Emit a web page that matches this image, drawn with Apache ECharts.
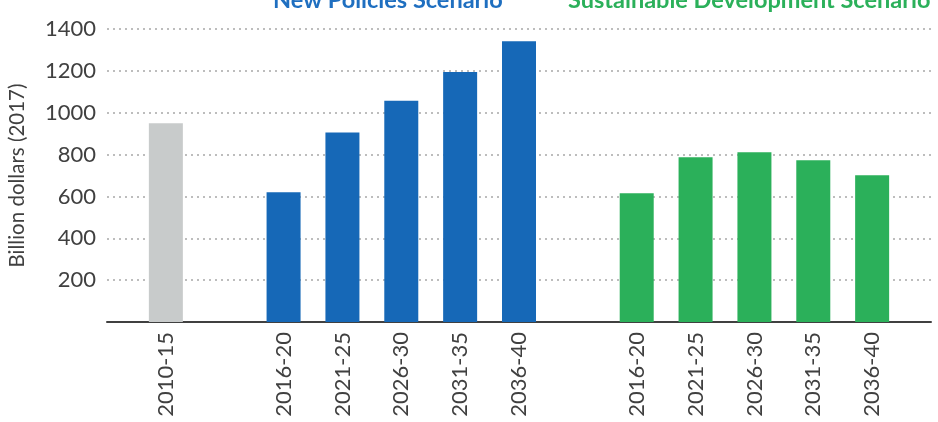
<!DOCTYPE html>
<html>
<head>
<meta charset="utf-8">
<script src="https://cdn.jsdelivr.net/npm/echarts@6/dist/echarts.min.js"></script>
<style>
  html, body { margin: 0; padding: 0; background: #fff; }
  #chart { width: 938px; height: 422px; }
</style>
</head>
<body>
<div id="chart"></div>
<script>
// categories along x, blanks are the gaps between the groups
const categories = ['', '2010-15', '', '2016-20', '2021-25', '2026-30', '2031-35', '2036-40', '', '2016-20', '2021-25', '2026-30', '2031-35', '2036-40', '']
const historical = [950]
const newPolicies = [620, 906, 1057, 1194, 1342]
const sustainable = [615, 787, 811, 773, 701]
const yTicks = [200, 400, 600, 800, 1000, 1200, 1400]

const FONT = 'Lato'

// place each series at its slots, '-' elsewhere
function placeAt(values, start) {
  const out = categories.map(() => '-')
  values.forEach((v, i) => { out[start + i] = v })
  return out
}

const chart = echarts.init(document.getElementById('chart'))
chart.setOption({
  animation: false,
  grid: { left: 107, right: 7, top: 29, bottom: 100, outerBoundsMode: 'none' },
  graphic: [
    {
      type: 'text', left: 273, top: -12,
      style: { text: 'New Policies Scenario', fill: '#1f6fc0', font: 'bold 23.5px ' + FONT },
    },
    {
      type: 'text', left: 568, top: -12,
      style: { text: 'Sustainable Development Scenario', fill: '#2bb05a', font: 'bold 23.5px ' + FONT },
    },
  ],
  xAxis: {
    type: 'category',
    data: categories,
    boundaryGap: false,
    axisLine: { lineStyle: { color: '#404040', width: 2 } },
    axisTick: { show: false },
    axisLabel: {
      interval: 0,
      rotate: 90,
      margin: 10,
      color: '#404040',
      fontFamily: FONT,
      fontSize: 22,
    },
  },
  yAxis: {
    type: 'value',
    min: 0,
    max: yTicks[yTicks.length - 1],
    interval: 200,
    name: 'Billion dollars (2017)',
    nameLocation: 'middle',
    nameGap: 79,
    nameTextStyle: { color: '#404040', fontFamily: FONT, fontSize: 20.5 },
    axisLine: { show: false },
    axisTick: { show: false },
    axisLabel: {
      margin: 11,
      color: '#404040',
      fontFamily: FONT,
      fontSize: 22,
      formatter: v => (yTicks.includes(v) ? String(v) : ''),
    },
    splitLine: { lineStyle: { color: '#a8a8a8', type: [2, 4], width: 1.5 } },
  },
  series: [
    {
      name: 'Historical', type: 'bar', stack: 'all', barWidth: 34,
      data: placeAt(historical, 1),
      itemStyle: { color: '#c8cbcb' },
    },
    {
      name: 'New Policies Scenario', type: 'bar', stack: 'all', barWidth: 34,
      data: placeAt(newPolicies, 3),
      itemStyle: { color: '#1668b7' },
    },
    {
      name: 'Sustainable Development Scenario', type: 'bar', stack: 'all', barWidth: 34,
      data: placeAt(sustainable, 9),
      itemStyle: { color: '#2bb05a' },
    },
  ],
})
</script>
</body>
</html>
